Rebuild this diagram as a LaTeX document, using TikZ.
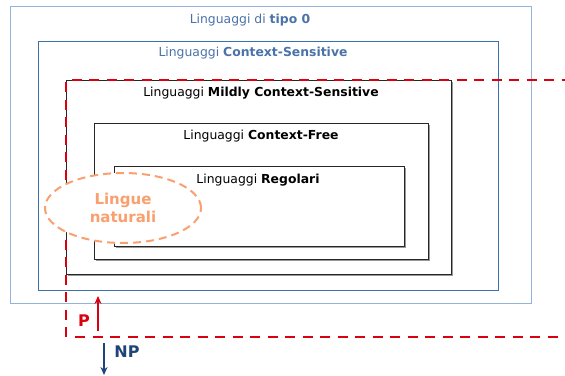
\documentclass[tikz,border=0pt]{standalone}
\usepackage{fontspec}
\setmainfont{DejaVu Sans}
\usetikzlibrary{arrows.meta,shapes.geometric}
\definecolor{lightblue}{HTML}{95B3D7}
\definecolor{midblue}{HTML}{3D6FA8}
\definecolor{txtblue}{HTML}{4A72A8}
\definecolor{darkred}{HTML}{D9000F}
\definecolor{orng}{HTML}{F9A06E}
\definecolor{navy}{HTML}{1F4478}
\tikzset{
  lab/.style={font=\fontsize{12.4}{14}\selectfont, inner sep=0pt, anchor=center},
  shadowline/.style={draw=gray!80, line width=1.3pt},
  reddash/.style={draw=darkred, line width=2.6pt, dash pattern=on 10pt off 7.5pt},
}
\begin{document}
\begin{tikzpicture}[x=1pt,y=-1pt]
\useasboundingbox (0,0) rectangle (565,375);
% nested language classes
\draw[draw=lightblue, line width=1pt] (10,6) rectangle (531,303);
\node[lab, text=txtblue] (t0) at (250,20) {Linguaggi di \textbf{tipo 0}};
\draw[draw=midblue, line width=0.85pt] (38,41) rectangle (498,290);
\node[lab, text=txtblue] (cs) at (253,53) {Linguaggi \textbf{Context-Sensitive}};
% mildly context-sensitive
\draw[shadowline] (452,82) -- (452,275) -- (68,275);
\draw[draw=black!85, line width=0.85pt] (66,80) rectangle (451,274);
\node[lab] (mcs) at (261,93) {Linguaggi \textbf{Mildly Context-Sensitive}};
% context-free
\draw[shadowline] (429,125) -- (429,260) -- (96,260);
\draw[draw=black!85, line width=0.85pt] (94,123) rectangle (428,259);
\node[lab] (cf) at (261,136) {Linguaggi \textbf{Context-Free}};
% regular
\draw[shadowline] (405,168) -- (405,247) -- (116,247);
\draw[draw=black!85, line width=0.85pt] (114,166) rectangle (404,246);
\node[lab] (reg) at (258,180) {Linguaggi \textbf{Regolari}};
% P / NP boundary
\coordinate (bl) at (66,337);
\coordinate (tl) at (66,80);
\coordinate (tr) at (565,80);
\coordinate (br0) at (75,337);
\coordinate (br) at (565,337);
\draw[reddash] (bl) -- (tl) -- (tr);
\draw[reddash] (br0) -- (br);
% natural languages
\node[draw=orng, dash pattern=on 8pt off 5pt, line width=2pt, ellipse, minimum width=156pt, minimum height=70pt, inner sep=0pt, fill=white, text=orng, align=center, font=\fontsize{15}{18}\selectfont\bfseries] (nl) at (123,208) {Lingue\\naturali};
% arrows
\coordinate (pa) at (98,331);
\coordinate (pb) at (98,296);
\draw[darkred, line width=1.5pt, -{Stealth[length=8pt,width=7pt]}] (pa) -- (pb);
\node[text=darkred, font=\fontsize{16}{18}\selectfont\bfseries, inner sep=0pt] (p) at (84,321) {P};
\coordinate (na) at (104,343);
\coordinate (nb) at (104,375);
\draw[navy, line width=1.5pt, -{Stealth[length=8pt,width=7pt]}] (na) -- (nb);
\node[text=navy, font=\fontsize{16}{18}\selectfont\bfseries, inner sep=0pt] (np) at (127,352) {NP};
\end{tikzpicture}
\end{document}
